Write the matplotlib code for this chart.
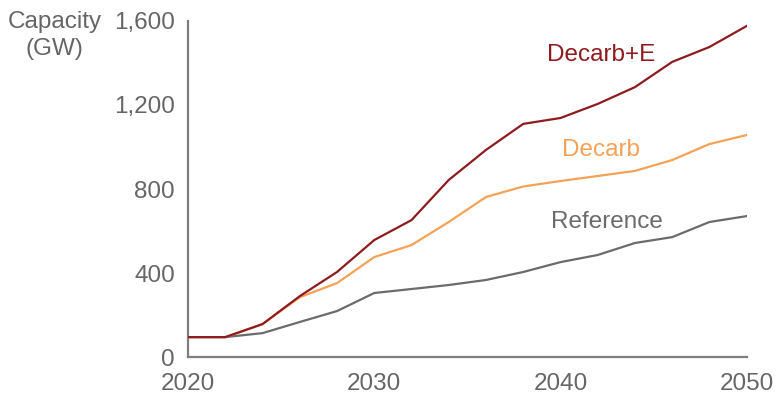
import matplotlib

matplotlib.use("Agg")
import matplotlib.pyplot as plt

plt.rcParams["font.family"] = ["Liberation Sans", "DejaVu Sans"]

years = [2020, 2022, 2024, 2026, 2028, 2030, 2032, 2034, 2036, 2038, 2040, 2042, 2044, 2046, 2048, 2050]
decarb_e = [95, 95, 157, 290, 405, 557, 652, 843, 986, 1110, 1138, 1205, 1285, 1405, 1476, 1576]
decarb = [95, 95, 157, 285, 352, 476, 533, 643, 762, 812, 838, 862, 886, 938, 1014, 1057]
reference = [95, 95, 114, 167, 219, 305, 324, 343, 367, 405, 452, 486, 543, 571, 643, 671]

x_ticks = [2020, 2030, 2040, 2050]
y_ticks = [0, 400, 800, 1200, 1600]

RED = "#8e1c1f"
ORANGE = "#f4a257"
GREY = "#6b6b6b"
TEXT = "#666666"
FS = 17.5

fig = plt.figure(figsize=(7.77, 3.95), dpi=100)
ax = fig.add_axes([0.242, 0.096, 0.719, 0.851])

ax.plot(years, reference, color=GREY, lw=1.6, zorder=3)
ax.plot(years, decarb, color=ORANGE, lw=1.6, zorder=4)
ax.plot(years, decarb_e, color=RED, lw=1.6, zorder=5)

ax.text(2042.2, 1440, "Decarb+E", color=RED, fontsize=FS, ha="center", va="center")
ax.text(2042.2, 985, "Decarb", color=ORANGE, fontsize=FS, ha="center", va="center")
ax.text(2042.5, 643, "Reference", color=GREY, fontsize=FS, ha="center", va="center")

ax.set_xlim(2020, 2050)
ax.set_ylim(0, 1600)
ax.set_xticks(x_ticks)
ax.set_yticks(y_ticks)
ax.set_yticklabels([f"{v:,}" for v in y_ticks])
ax.tick_params(length=0, labelsize=FS, labelcolor=TEXT)
ax.tick_params(axis="x", pad=11.5)
ax.tick_params(axis="y", pad=9.5)

for side in ("top", "right"):
    ax.spines[side].set_visible(False)
for side in ("left", "bottom"):
    ax.spines[side].set_color("#7f7f7f")
    ax.spines[side].set_linewidth(1.6)

fig.text(0.070, 0.910, "Capacity\n(GW)", color=TEXT, fontsize=FS, ha="center", va="center", linespacing=1.25)

fig.savefig("out.png", dpi=100)
